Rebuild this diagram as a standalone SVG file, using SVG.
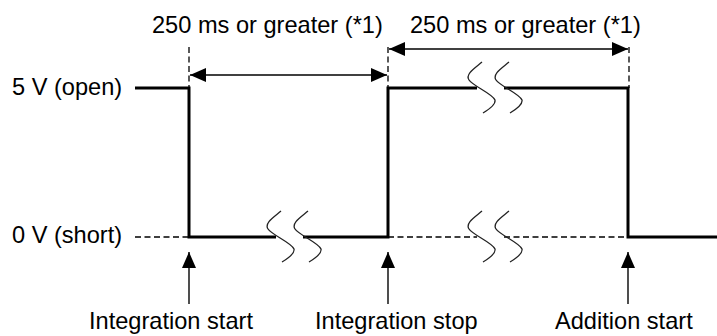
<svg xmlns="http://www.w3.org/2000/svg" width="717" height="336" viewBox="0 0 717 336">
<style>
text{font-family:"Liberation Sans",Arial,sans-serif;font-size:23.6px;fill:#000}
.sig{fill:none;stroke:#000;stroke-width:3}
.dash{fill:none;stroke:#000;stroke-width:1.3;stroke-dasharray:6 3.5}
.dim{fill:none;stroke:#000;stroke-width:1.4}
.arr{fill:none;stroke:#222;stroke-width:1.6}
.brk{fill:none;stroke:#222;stroke-width:1.3}
</style>
<defs>
<marker id="ah" viewBox="0 0 16 14" refX="16" refY="7" markerWidth="16" markerHeight="14" markerUnits="userSpaceOnUse" orient="auto-start-reverse">
<path d="M0,0 L16,7 L0,14 z" fill="#000"/>
</marker>
<path id="s" d="M5,-26 C-2,-20 -12,-14 -8,-8 C-4,-2 16,6 18,12 C19,17 11,22 6,25"/>
</defs>
<g id="levels">
<text id="lbl-5v" x="12" y="95">5 V (open)</text>
<text id="lbl-0v" x="12" y="243">0 V (short)</text>
</g>
<g id="signal">
<path class="sig" d="M135,88 H189 V237 H276 M303,237 H388 V88 H477 M504,88 H628 V237 H717"/>
<path class="dash" d="M135,237 H189 M388,237 H477 M504,237 H628"/>
</g>
<g id="breaks">
<use href="#s" class="brk" x="276" y="237"/>
<use href="#s" class="brk" x="303" y="237"/>
<use href="#s" class="brk" x="477" y="88"/>
<use href="#s" class="brk" x="504" y="88"/>
<use href="#s" class="brk" x="477" y="237"/>
<use href="#s" class="brk" x="504" y="237"/>
</g>
<g id="connectors">
<path class="dash" d="M189,47 V88 M388,47 V88 M629,47 V88"/>
<line class="dim" x1="190" y1="75" x2="387" y2="75" marker-start="url(#ah)" marker-end="url(#ah)"/>
<line class="dim" x1="389" y1="49" x2="628" y2="49" marker-start="url(#ah)" marker-end="url(#ah)"/>
<line class="arr" x1="189" y1="304" x2="189" y2="252" marker-end="url(#ah)"/>
<line class="arr" x1="388" y1="304" x2="388" y2="252" marker-end="url(#ah)"/>
<line class="arr" x1="628" y1="304" x2="628" y2="252" marker-end="url(#ah)"/>
</g>
<g id="dim1"><text x="152" y="33">250 ms or greater (*1)</text></g>
<g id="dim2"><text x="410" y="33">250 ms or greater (*1)</text></g>
<g id="ev-start"><text x="89" y="329">Integration start</text></g>
<g id="ev-stop"><text x="315" y="329">Integration stop</text></g>
<g id="ev-add"><text x="555" y="329">Addition start</text></g>
</svg>
